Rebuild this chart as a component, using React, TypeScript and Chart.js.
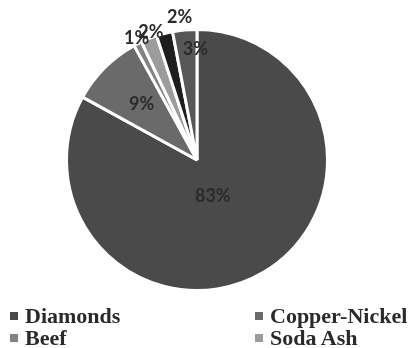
import React, { useEffect, useRef } from "react";
import { Chart, registerables } from "chart.js";

Chart.register(...registerables);

const categories = ["Diamonds", "Copper-Nickel", "Beef", "Soda Ash", "Other A", "Other B"];
const values = [83, 9, 1, 2, 2, 3];
const colors = ["#4a4a4a", "#6a6a6a", "#828282", "#9c9c9c", "#1e1e1e", "#575757"];
const legendShown = 4;
// label radial position as fraction of radius, per slice
const labelRadius = [0.3, 0.6, 1.04, 1.04, 1.1, 0.85];
const labelAngleShift = [0.12, 0, 0.01, 0.03, 0.13, 0.08];

const labelPlugin = {
  id: "sliceLabels",
  afterDatasetsDraw(chart: any) {
    const ctx = chart.ctx;
    const meta = chart.getDatasetMeta(0);
    const total = values.reduce((a, b) => a + b, 0);
    ctx.save();
    ctx.font = "bold 18px Lato";
    ctx.fillStyle = "#2b2b2b";
    ctx.textAlign = "center";
    ctx.textBaseline = "middle";
    meta.data.forEach((arc: any, i: number) => {
      const p = arc.getProps(["x", "y", "startAngle", "endAngle", "outerRadius"], true);
      const mid = (p.startAngle + p.endAngle) / 2 + labelAngleShift[i];
      const r = p.outerRadius * labelRadius[i];
      const x = p.x + Math.cos(mid) * r;
      const y = p.y + Math.sin(mid) * r;
      ctx.fillText(Math.round((values[i] / total) * 100) + "%", x, y);
    });
    ctx.restore();
  },
};

export default function App() {
  const ref = useRef<HTMLCanvasElement>(null);
  useEffect(() => {
    const chart = new Chart(ref.current!, {
      type: "pie",
      data: {
        labels: categories,
        datasets: [
          {
            data: values,
            backgroundColor: colors,
            borderColor: "#ffffff",
            borderWidth: 3,
          },
        ],
      },
      options: {
        animation: false,
        responsive: false,
        layout: { padding: { top: 28, bottom: 56, left: 0, right: 20 } },
        plugins: { legend: { display: false }, tooltip: { enabled: false } },
      },
      plugins: [labelPlugin],
    });
    return () => chart.destroy();
  }, []);

  const legendItems = categories.slice(0, legendShown);
  return (
    <div style={{ position: "absolute", left: 0, top: 0, width: 414, height: 348, background: "#fff", overflow: "hidden" }}>
      <canvas ref={ref} width={414} height={348} style={{ position: "absolute", left: 0, top: 0 }} />
      {legendItems.map((name, i) => {
        const col = i % 2;
        const row = Math.floor(i / 2);
        return (
          <div
            key={name}
            style={{
              position: "absolute",
              left: col === 0 ? 10 : 255,
              top: 305 + row * 22,
              display: "flex",
              alignItems: "center",
              fontFamily: "'Liberation Serif', 'Times New Roman', serif",
              fontWeight: "bold",
              fontSize: 22,
              lineHeight: "22px",
              color: "#2a2a2a",
              whiteSpace: "nowrap",
            }}
          >
            <span style={{ display: "inline-block", width: 8, height: 8, background: colors[i], marginRight: 7 }} />
            {name}
          </div>
        );
      })}
    </div>
  );
}
